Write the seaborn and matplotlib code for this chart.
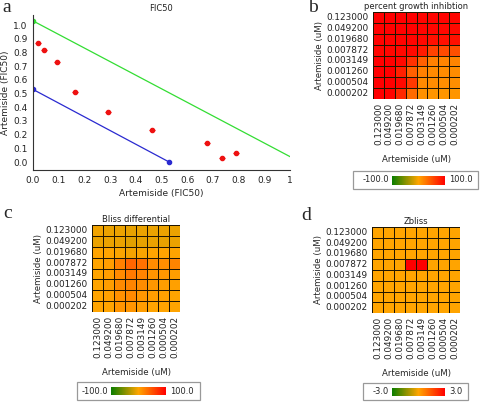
import numpy as np
import pandas as pd
import matplotlib
matplotlib.use("Agg")
import matplotlib.pyplot as plt
from matplotlib.colors import LinearSegmentedColormap
from matplotlib.patches import Rectangle
import seaborn as sns

# =====================================================
# Data
# =====================================================

conc_labels = ["0.123000", "0.049200", "0.019680", "0.007872",
               "0.003149", "0.001260", "0.000504", "0.000202"]

# FIC50 isobologram
fic_x = [0.021, 0.044, 0.093, 0.163, 0.293, 0.464, 0.678, 0.735, 0.790]
fic_y = [0.866, 0.815, 0.728, 0.511, 0.367, 0.231, 0.141, 0.027, 0.066]
fic_xerr = [0.012, 0.012, 0.012, 0.012, 0.012, 0.012, 0.012, 0.012, 0.012]
green_x = [0.0, 1.04]
green_y = [1.03, 0.0]
blue_x = [0.0, 0.53]
blue_y = [0.53, 0.0]

# percent growth inhibition (rows: top -> bottom, cols: left -> right)
inhibition = [
    [100, 100, 100, 100, 97, 97, 97, 96],
    [99, 99, 99, 99, 97, 96, 95, 94],
    [98, 98, 98, 97, 95, 90, 90, 90],
    [96, 96, 95, 94, 84, 60, 55, 52],
    [100, 100, 95, 70, 42, 22, 20, 20],
    [100, 100, 80, 42, 22, 16, 15, 15],
    [100, 100, 95, 65, 16, 15, 14, 14],
    [100, 98, 75, 35, 12, 10, 10, 10],
]

# Bliss differential
bliss = [
    [-6, -8, -8, -10, -8, -8, -8, -8],
    [-8, -8, -8, -12, -10, -8, -10, -8],
    [0, 0, -2, -4, -2, 0, 0, 0],
    [0, 5, 22, 38, 32, 15, 14, 20],
    [0, 5, 16, 26, 20, 10, 8, 5],
    [0, 5, 16, 20, 15, 8, 5, 3],
    [0, 3, 12, 16, 8, 5, 3, 0],
    [0, 0, 10, 10, 5, 0, 0, 0],
]

# Zbliss
zbliss = [
    [0, 0, 0, 0, 0, 0, 0, 0],
    [0, 0, 0, 0, 0, 0, 0, 0],
    [0, 0, 0, 0, 0, 0, 0, 0],
    [0, 0, 0, 3, 3, 0, 0, 0],
    [0, 0, 0, 0, 0, 0, 0, 0],
    [0, 0, 0, 0, 0, 0, 0, 0],
    [0, 0, 0, 0, 0, 0, 0, 0],
    [0, 0, 0, 0, 0, 0, 0, 0],
]

# =====================================================
# Setup
# =====================================================

sns.set_theme(style="white")
plt.rcParams["font.family"] = ["DejaVu Sans"]

W, H = 480, 404
fig = plt.figure(figsize=(4.8, 4.04), dpi=100)

cmap = LinearSegmentedColormap.from_list(
    "gor", ["#0a7d00", "#FFA500", "#FF0000"]
)


def fx(px):
    return px / W


def fy(py):
    return 1 - py / H


def add_ax(x0, y0, x1, y1):
    return fig.add_axes([fx(x0), fy(y1), fx(x1 - x0), (y1 - y0) / H])


def panel_letter(x, y, s):
    fig.text(fx(x), fy(y), s, fontsize=14, family="Liberation Serif",
             ha="left", va="center")


# =====================================================
# a. FIC50 isobologram
# =====================================================

ax_a = add_ax(33, 15, 290, 170)

ax_a.plot(green_x, green_y, color="#33dd33", lw=0.9)
ax_a.plot(green_x[:1], green_y[:1], "o", color="#33dd33", ms=3)
ax_a.plot(blue_x, blue_y, color="#2a2ad0", lw=0.9, marker="o", ms=3)
ax_a.errorbar(fic_x, fic_y, xerr=fic_xerr, fmt="o", color="#ee1111",
              ms=3, elinewidth=0.8, capsize=0)

ax_a.set_xlim(0, 1.0)
ax_a.set_ylim(-0.058, 1.073)
ax_a.set_xticks(np.arange(0, 1.01, 0.1))
ax_a.set_xticklabels(["0.0", "0.1", "0.2", "0.3", "0.4", "0.5",
                      "0.6", "0.7", "0.8", "0.9", "1"])
ax_a.set_yticks(np.arange(0, 1.01, 0.1))
ax_a.set_yticklabels([f"{v:.1f}" for v in np.arange(0, 1.01, 0.1)])
ax_a.tick_params(labelsize=6.5, length=2, pad=2, colors="#222222")
for s in ["top", "right"]:
    ax_a.spines[s].set_visible(False)
for s in ["left", "bottom"]:
    ax_a.spines[s].set_color("#333333")
    ax_a.spines[s].set_linewidth(0.8)
ax_a.set_title("FIC50", fontsize=6, pad=3, color="#222222")
ax_a.set_xlabel("Artemiside (FIC50)", fontsize=6.5, labelpad=3)
ax_a.set_ylabel("Artemiside (FIC50)", fontsize=6.5, labelpad=2)
panel_letter(2, 8, "a")


# =====================================================
# Heatmap panels
# =====================================================

def heat_panel(values, box, title, vmin, vmax, cbox, grad, lo, hi, letter):
    x0, y0, x1, y1 = box
    ax = add_ax(x0, y0, x1, y1)
    df = pd.DataFrame(values, index=conc_labels, columns=conc_labels)
    sns.heatmap(df, ax=ax, cmap=cmap, vmin=vmin, vmax=vmax, cbar=False,
                linewidths=0.7, linecolor="#201500", square=False,
                xticklabels=True, yticklabels=True)
    ax.set_title(title, fontsize=6, pad=2, color="#222222")
    ax.tick_params(labelsize=6.4, length=0, pad=3, colors="#222222")
    ax.tick_params(axis="x", labelrotation=90)
    ax.tick_params(axis="y", labelrotation=0)
    ax.set_xlabel("Artemiside (uM)", fontsize=6.2, labelpad=7)
    ax.set_ylabel("Artemiside (uM)", fontsize=6.2, labelpad=2)

    # legend box with gradient
    bx0, by0, bx1, by1 = cbox
    fig.patches.append(Rectangle((fx(bx0), fy(by1)), fx(bx1 - bx0),
                                 (by1 - by0) / H, transform=fig.transFigure,
                                 fill=False, ec="#999999", lw=0.9))
    gx0, gy0, gx1, gy1 = grad
    cax = add_ax(gx0, gy0, gx1, gy1)
    cb = fig.colorbar(ax.collections[0], cax=cax, orientation="horizontal")
    cb.set_ticks([])
    cb.outline.set_visible(False)
    ymid = fy((by0 + by1) / 2)
    fig.text(fx(gx0 - 3), ymid, lo, fontsize=6, ha="right", va="center")
    fig.text(fx(gx1 + 4), ymid, hi, fontsize=6, ha="left", va="center")
    panel_letter(letter[0], letter[1], letter[2])


heat_panel(inhibition, (373, 12, 460, 99), "percent growth inhibtion",
           -100, 100, (353, 171, 478, 189), (392, 176, 445, 185),
           "-100.0", "100.0", (308, 8, "b"))

heat_panel(bliss, (92, 225, 180, 312), "Bliss differential",
           -100, 100, (77, 382, 200, 400), (111, 387, 166, 395),
           "-100.0", "100.0", (3, 213, "c"))

heat_panel(zbliss, (372, 227, 460, 313), "Zbliss",
           -3, 3, (363, 383, 468, 400), (392, 388, 445, 396),
           "-3.0", "3.0", (301, 215, "d"))

fig.savefig("out.png", dpi=100)
